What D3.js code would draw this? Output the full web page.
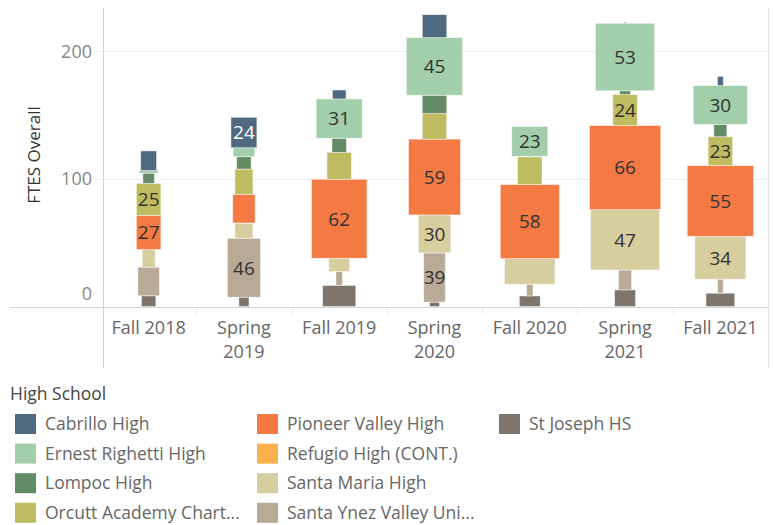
<!DOCTYPE html>
<html>
<head>
<meta charset="utf-8">
<script src="https://cdn.jsdelivr.net/npm/d3@7"></script>
<style>
  body { margin: 0; background: #fff; }
  svg { display: block; font-family: "Open Sans", Lato, sans-serif; }
</style>
</head>
<body>
<div id="chart"></div>
<script>
// terms on the x axis
var terms = ["Fall 2018", "Spring 2019", "Fall 2019", "Spring 2020", "Fall 2020", "Spring 2021", "Fall 2021"];

// legend order (stacking goes the other way, St Joseph at the bottom)
var schools = ["Cabrillo High", "Ernest Righetti High", "Lompoc High", "Orcutt Academy Chart...",
  "Pioneer Valley High", "Refugio High (CONT.)", "Santa Maria High", "Santa Ynez Valley Uni...", "St Joseph HS"];
var colors = ["#4f6980", "#a2ceaa", "#638b66", "#bfbb60", "#f47942", "#fbb04e", "#d7ce9f", "#b9aa97", "#7e756d"];

// FTES Overall per school, one value per term
var cabrillo   = [15.4, 23.8, 7.0, 18.0, 0, 0.8, 7.3];
var righetti   = [2.0, 7.0, 30.8, 45.1, 23.4, 52.8, 30.3];
var lompoc     = [8.0, 9.7, 11.0, 14.3, 0.5, 2.9, 9.7];
var orcutt     = [25.2, 19.8, 21.1, 20.1, 21.7, 24.3, 22.6];
var pioneer    = [26.6, 22.4, 61.8, 59.3, 57.9, 65.8, 55.3];
var refugio    = [0, 0.3, 0, 0, 0, 0, 0];
var santaMaria = [13.8, 11.7, 10.4, 29.7, 20.1, 47.3, 33.6];
var santaYnez  = [22.4, 46.1, 11.0, 38.6, 9.1, 15.6, 11.0];
var stJoseph   = [8.4, 7.3, 16.4, 3.4, 8.3, 13.0, 10.4];

// second measure on the size shelf (drives mark width)
var cabrilloSize   = [22, 36, 19, 34, 0, 4, 8];
var righettiSize   = [27, 30, 64, 78, 50, 82, 75];
var lompocSize     = [16, 20, 20, 34, 4, 15, 18];
var orcuttSize     = [34, 25, 34, 34, 34, 34, 34];
var pioneerSize    = [34, 31, 77, 72, 82, 99, 92];
var refugioSize    = [0, 4, 0, 0, 0, 0, 0];
var santaMariaSize = [18, 25, 29, 45, 70, 96, 71];
var santaYnezSize  = [30, 46, 9, 30, 9, 18, 8];
var stJosephSize   = [20, 14, 46, 14, 29, 29, 40];

var values = [cabrillo, righetti, lompoc, orcutt, pioneer, refugio, santaMaria, santaYnez, stJoseph];
var sizes = [cabrilloSize, righettiSize, lompocSize, orcuttSize, pioneerSize, refugioSize, santaMariaSize, santaYnezSize, stJosephSize];

var yTicks = [0, 100, 200];

var width = 773, height = 525;
var svg = d3.select("#chart").append("svg")
  .attr("width", width)
  .attr("height", height);

var x = d3.scaleBand().domain(terms).range([101, 768]);
var y = d3.scaleLinear().domain([0, 234]).range([306.5, 7.6]);
var w = d3.scaleLinear().domain([0, 100]).range([0, 72]);
var color = d3.scaleOrdinal().domain(schools).range(colors);

// rows for d3.stack
var rows = terms.map(function(t, i) {
  var r = { term: t };
  schools.forEach(function(s, k) { r[s] = values[k][i]; r[s + "_size"] = sizes[k][i]; });
  return r;
});
var stack = d3.stack().keys(schools.slice().reverse());
var series = stack(rows);

// gridlines
svg.append("g")
  .selectAll("line")
  .data(yTicks.filter(function(d) { return d > 0; }))
  .enter().append("line")
    .attr("x1", 97).attr("x2", 768)
    .attr("y1", function(d) { return Math.round(y(d)) + 0.5; })
    .attr("y2", function(d) { return Math.round(y(d)) + 0.5; })
    .attr("stroke", "#ececec");

// frame lines
svg.append("line").attr("x1", 10).attr("x2", 769).attr("y1", 307.5).attr("y2", 307.5).attr("stroke", "#d4d4d4");
svg.append("line").attr("x1", 103.5).attr("x2", 103.5).attr("y1", 8).attr("y2", 368).attr("stroke", "#d4d4d4");
svg.append("line").attr("x1", 768.5).attr("x2", 768.5).attr("y1", 8).attr("y2", 368).attr("stroke", "#e4e4e4");

// small column dividers below the axis
svg.append("g").selectAll("line")
  .data(terms.slice(1))
  .enter().append("line")
    .attr("x1", function(d) { return Math.round(x(d)) + 0.5; })
    .attr("x2", function(d) { return Math.round(x(d)) + 0.5; })
    .attr("y1", 308).attr("y2", 314)
    .attr("stroke", "#e6e6e6");

// y axis
var yAxis = svg.append("g")
  .attr("transform", "translate(92,0)")
  .call(d3.axisLeft(y).tickValues(yTicks).tickSize(0).tickPadding(0));
yAxis.select(".domain").remove();
yAxis.selectAll("text")
  .attr("font-size", 18)
  .attr("font-family", "'Open Sans', sans-serif")
  .attr("fill", "#888")
  .attr("dy", function(d) { return d === 0 ? "-0.4em" : "0.34em"; });

svg.append("text")
  .attr("transform", "translate(40,155) rotate(-90)")
  .attr("text-anchor", "middle")
  .attr("font-size", 17)
  .attr("fill", "#333")
  .text("FTES Overall");

// x labels
var xl = svg.append("g").selectAll("text")
  .data(terms)
  .enter().append("text")
    .attr("x", function(d) { return x(d) + x.bandwidth() / 2; })
    .attr("y", 333.5)
    .attr("text-anchor", "middle")
    .attr("font-size", 18)
    .attr("fill", "#666");
xl.selectAll("tspan")
  .data(function(d) { return d.length > 9 ? d.split(" ") : [d]; })
  .enter().append("tspan")
    .attr("x", function() { return d3.select(this.parentNode).attr("x"); })
    .attr("dy", function(d, i) { return i ? 24 : 0; })
    .text(function(d) { return d; });

// marks
var layer = svg.append("g").selectAll("g")
  .data(series)
  .enter().append("g")
    .attr("fill", function(d) { return color(d.key); });

function markW(d, key) { return w(d.data[key + "_size"]); }

layer.selectAll("rect")
  .data(function(s) { return s.map(function(d) { d.key = s.key; return d; }).filter(function(d) { return d[1] - d[0] > 0; }); })
  .enter().append("rect")
    .attr("x", function(d) { return x(d.data.term) + x.bandwidth() / 2 - markW(d, d.key) / 2; })
    .attr("y", function(d) { return y(d[1]); })
    .attr("width", function(d) { return Math.max(markW(d, d.key), 1); })
    .attr("height", function(d) { return Math.max(y(d[0]) - y(d[1]), 1); })
    .attr("stroke", "rgba(255,255,255,0.55)")
    .attr("stroke-width", 0.8);

// labels
var fmt = d3.format(".0f");
layer.selectAll("text")
  .data(function(s) {
    return s.filter(function(d) { return Math.round(d[1] - d[0]) >= 23 && markW(d, d.key) >= 20; });
  })
  .enter().append("text")
    .attr("x", function(d) { return x(d.data.term) + x.bandwidth() / 2; })
    .attr("y", function(d) { return (y(d[0]) + y(d[1])) / 2; })
    .attr("dy", "0.36em")
    .attr("text-anchor", "middle")
    .attr("font-size", 19)
    .attr("fill", function(d) { return d.key === "Cabrillo High" ? "#fff" : "#333"; })
    .text(function(d) { return fmt(d[1] - d[0]); });

// legend
svg.append("text")
  .attr("x", 10).attr("y", 400)
  .attr("font-size", 17.5)
  .attr("fill", "#444")
  .text("High School");

var item = svg.append("g").selectAll("g")
  .data(schools)
  .enter().append("g")
    .attr("transform", function(d, i) {
      return "translate(" + (15 + Math.floor(i / 4) * 242) + "," + (414 + (i % 4) * 29.6) + ")";
    });
item.append("rect")
  .attr("width", 21).attr("height", 20)
  .attr("fill", function(d) { return color(d); });
item.append("text")
  .attr("x", 30).attr("y", 10)
  .attr("dy", "0.35em")
  .attr("font-size", 17.5)
  .attr("fill", "#666")
  .text(function(d) { return d; });
</script>
</body>
</html>
